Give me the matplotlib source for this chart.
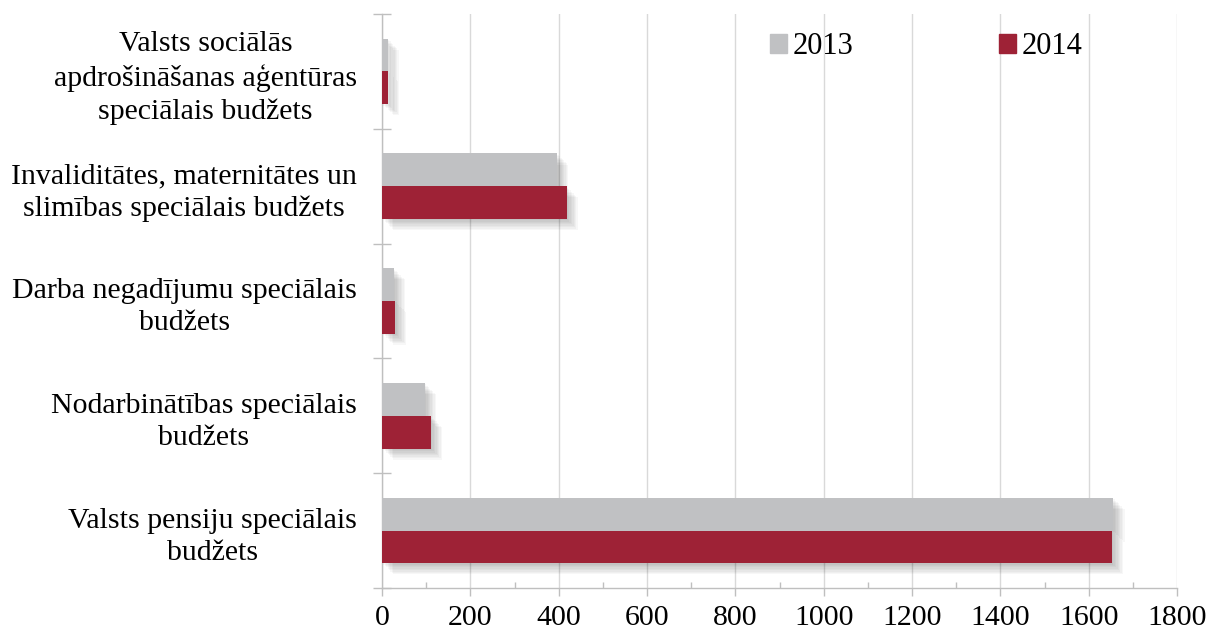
import matplotlib.pyplot as plt
import matplotlib.patheffects as pe
from matplotlib.patches import Patch
from matplotlib.ticker import MultipleLocator, FixedLocator
import numpy as np

# categories listed bottom -> top
categories = [
    'Valsts pensiju speciālais\nbudžets',
    'Nodarbinātības speciālais\nbudžets',
    'Darba negadījumu speciālais\nbudžets',
    'Invaliditātes, maternitātes un\nslimības speciālais budžets',
    'Valsts sociālās\napdrošināšanas aģentūras\nspeciālais budžets',
]
values_2013 = [1656, 97, 27, 397, 13]
values_2014 = [1653, 111, 30, 418, 14]
years = ['2013', '2014']

col_2013 = '#C0C1C3'
col_2014 = '#9E2236'

plt.rcParams['font.family'] = ['Liberation Serif', 'DejaVu Serif']
plt.rcParams['font.size'] = 21.5

fig = plt.figure(figsize=(12.08, 6.34), dpi=100)
ax = fig.add_axes([382 / 1208, 1 - 588 / 634, (1177 - 382) / 1208, (588 - 14) / 634])

y = np.arange(len(categories))
h = 0.285

# soft drop shadow, built from a few faint offset copies
shadow = [pe.SimplePatchShadow(offset=(o, -o), shadow_rgbFace='black', alpha=0.03)
          for o in (1, 2, 3, 4, 5, 6, 7, 8)] + [pe.Normal()]

ax.barh(y + h / 2, values_2013, height=h, color=col_2013, path_effects=shadow, zorder=3)
ax.barh(y - h / 2, values_2014, height=h, color=col_2014, path_effects=shadow, zorder=3)

ax.set_xlim(0, 1800)
ax.set_ylim(-0.5, len(categories) - 0.5)

ax.xaxis.set_major_locator(MultipleLocator(200))
ax.xaxis.set_minor_locator(MultipleLocator(100))
ax.tick_params(axis='x', which='major', direction='out', length=6, width=1,
               color='#BFBFBF', pad=6)
ax.tick_params(axis='x', which='minor', direction='in', length=4.5, width=1,
               color='#BFBFBF')

ax.set_yticks(y)
ax.set_yticklabels(categories)
ax.yaxis.set_minor_locator(FixedLocator(np.arange(-0.5, len(categories), 1.0)))
ax.tick_params(axis='y', which='major', length=0, pad=18)
ax.tick_params(axis='y', which='minor', direction='inout', length=13, width=1,
               color='#BFBFBF')
for lbl in ax.get_yticklabels():
    lbl.set_multialignment('center')
    lbl.set_linespacing(1.32)

ax.grid(axis='x', which='major', color='#D9D9D9', linewidth=1, zorder=0)
ax.set_axisbelow(True)
for s in ('top', 'right'):
    ax.spines[s].set_visible(False)
for s in ('left', 'bottom'):
    ax.spines[s].set_color('#BFBFBF')
    ax.spines[s].set_linewidth(1)

handles = [Patch(color=col_2013), Patch(color=col_2014)]
ax.legend(handles, years, loc='center left', bbox_to_anchor=(770 / 1208, 1 - 47 / 634),
          bbox_transform=fig.transFigure, ncol=2, frameon=False, borderpad=0,
          borderaxespad=0, handlelength=0.55, handleheight=0.55,
          handletextpad=0.2, columnspacing=4.75, fontsize=22)

fig.savefig('out.png', dpi=100)
